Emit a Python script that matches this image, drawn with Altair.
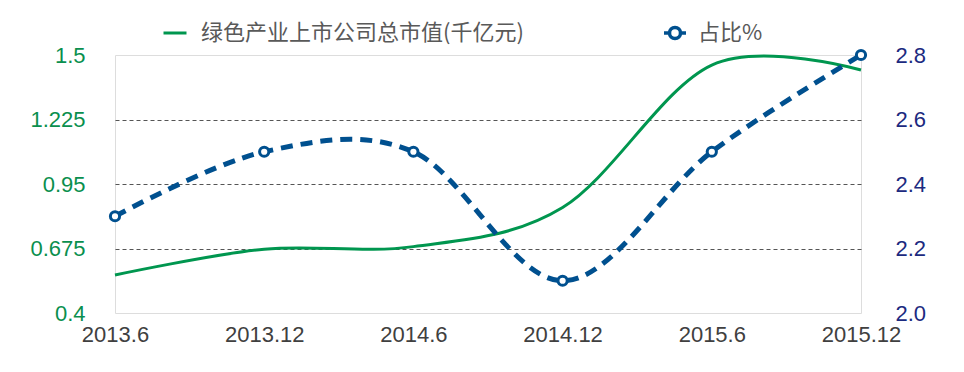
import altair as alt
import pandas as pd

periods = ["2013.6", "2013.12", "2014.6", "2014.12", "2015.6", "2015.12"]
market_value = [0.562, 0.672, 0.683, 0.85, 1.457, 1.436]
share_pct = [2.30, 2.50, 2.50, 2.10, 2.50, 2.80]
left_ticks = [0.4, 0.675, 0.95, 1.225, 1.5]
right_ticks = [2.0, 2.2, 2.4, 2.6, 2.8]
name_green = "绿色产业上市公司总市值(千亿元)"
name_blue = "占比%"

GREEN = "#00964f"
BLUE = "#00508f"
NAVY = "#1c2a80"

df = pd.DataFrame({
    "period": periods,
    "mv": market_value,
    "pct": share_pct,
    "s1": name_green,
    "s2": name_blue,
})

x = alt.X(
    "period:O",
    sort=periods,
    scale=alt.Scale(type="point", padding=0),
    axis=alt.Axis(
        title=None, labelAngle=0, ticks=False, domain=False, labelPadding=11,
        labelFont="Liberation Sans", labelFontSize=22, labelColor="#404040",
    ),
)

base = alt.Chart(df)

green_line = base.mark_line(
    interpolate="cardinal", tension=0, strokeWidth=3
).encode(
    x=x,
    y=alt.Y(
        "mv:Q",
        scale=alt.Scale(domain=[0.4, 1.5], nice=False, zero=False),
        axis=alt.Axis(
            title=None, values=left_ticks, format=".3~f", ticks=False, domain=False,
            labelPadding=30, labelFont="Liberation Sans", labelFontSize=22,
            labelColor="#0a8f4e", grid=True, gridColor="#555555", gridDash=[4, 3],
            gridWidth=1,
            gridOpacity={"condition": {"test": "datum.value < 0.5 || datum.value > 1.4", "value": 0}, "value": 1},
        ),
    ),
    color=alt.Color(
        "s1:N",
        scale=alt.Scale(domain=[name_green], range=[GREEN]),
        legend=alt.Legend(
            title=None, orient="none", legendX=47, legendY=-35, padding=0,
            symbolType="stroke", symbolSize=529, symbolStrokeWidth=3,
            labelFont="Noto Sans CJK SC", labelFontSize=22, labelColor="#595959",
            labelOffset=13, labelLimit=0,
        ),
    ),
)

pct_y = alt.Y(
    "pct:Q",
    scale=alt.Scale(domain=[2.0, 2.8], nice=False, zero=False),
    axis=alt.Axis(
        title=None, values=right_ticks, format=".1f", ticks=False, domain=False,
        orient="right", labelPadding=34, labelFont="Liberation Sans",
        labelFontSize=22, labelColor=NAVY, grid=False,
    ),
)

blue_line = base.mark_line(
    interpolate="cardinal", tension=0, strokeWidth=5, strokeDash=[12, 8],
    color=BLUE, strokeCap="butt",
).encode(x=x, y=pct_y)

blue_pts = base.mark_point(
    shape="circle", filled=True, fill="white", size=85, strokeWidth=3, opacity=1,
).encode(
    x=x,
    y=pct_y,
    stroke=alt.Stroke(
        "s2:N",
        scale=alt.Scale(domain=[name_blue], range=[BLUE]),
        legend=alt.Legend(
            title=None, orient="none", legendX=547, legendY=-35, padding=0,
            symbolType="M-1,0H-0.5M0.5,0H1M0.5,0A0.5,0.5,0,1,1,-0.5,0A0.5,0.5,0,1,1,0.5,0",
            symbolSize=484, symbolStrokeWidth=3.5, symbolFillColor="white",
            symbolStrokeColor=BLUE,
            labelFont="Noto Sans CJK SC", labelFontSize=22, labelColor="#595959",
            labelOffset=10, labelLimit=0,
        ),
    ),
)

right_layer = alt.layer(blue_line, blue_pts)

chart = alt.layer(green_line, right_layer).resolve_scale(
    y="independent"
).properties(
    width=746,
    height=258,
    autosize=alt.AutoSizeParams(type="none"),
    padding={"left": 115, "top": 55, "right": 103, "bottom": 59},
).configure_view(
    stroke="#8a8a8a", strokeWidth=1.5
).configure(background="white")

chart.save("out.html", embed_options={"renderer": "svg", "actions": False})
